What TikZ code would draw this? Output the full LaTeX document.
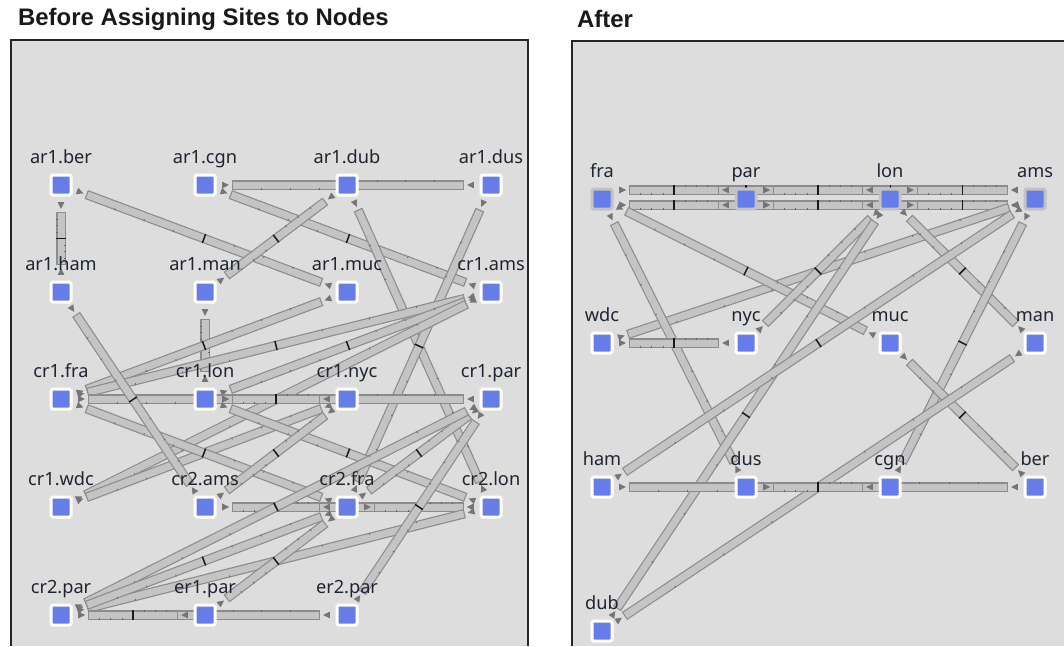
\documentclass[tikz,border=0pt]{standalone}
\usepackage{fontspec}
\setmainfont{Noto Sans}
\newfontfamily\titlefont{Liberation Sans}
\usetikzlibrary{decorations.markings}
\pgfdeclarelayer{panels}
\pgfdeclarelayer{linklayer}
\pgfsetlayers{panels,linklayer,main}
\definecolor{panelbg}{HTML}{DDDDDD}
\definecolor{barfill}{HTML}{C4C4C4}
\definecolor{baredge}{HTML}{8C8C8C}
\definecolor{tipgray}{HTML}{757575}
\definecolor{boxblue}{HTML}{667DE8}
\definecolor{hubrim}{HTML}{C2C2C2}
\definecolor{labelink}{HTML}{1E2430}
\newcommand\tickat[1]{{27.5pt+#1*(\pgfdecoratedpathlength-55pt)}}
\tikzset{
  panelbox/.style={fill=panelbg,draw=none},
  paneledge/.style={draw=black!85,line width=1.2pt},
  titletext/.style={anchor=base west,inner sep=0pt,font=\titlefont\bfseries\fontsize{23.9}{26}\selectfont,text=black!90},
  netbox/.style={rectangle,fill=boxblue,draw=white,line width=3pt,minimum size=20pt,inner sep=0pt,rounded corners=1.5pt},
  hubbox/.style={netbox,draw=hubrim},
  nettext/.style={anchor=base,inner sep=0pt,font=\fontsize{18.2}{20}\selectfont,text=labelink},
  barouter/.style={draw=baredge,line width=9.4pt,shorten >=27pt,shorten <=27pt},
  barinner/.style={draw=barfill,line width=7pt,shorten >=28.2pt,shorten <=28.2pt},
  barmarks/.style={decorate,decoration={markings,
    mark=at position 20.5pt with {\fill[tipgray] (3.4pt,0pt)--(-3.4pt,3.4pt)--(-3.4pt,-3.4pt)--cycle;},
    mark=at position \tickat{0.125} with {\draw[smalltick] (0pt,-4.7pt)--(0pt,-2.6pt);},
    mark=at position \tickat{0.25} with {\draw[smalltick] (0pt,-4.7pt)--(0pt,-2.6pt);},
    mark=at position \tickat{0.375} with {\draw[smalltick] (0pt,-4.7pt)--(0pt,-2.6pt);},
    mark=at position 0.5 with {\draw[black!90,line width=1.5pt] (0pt,-4.7pt)--(0pt,4.7pt);},
    mark=at position \tickat{0.625} with {\draw[smalltick] (0pt,4.7pt)--(0pt,2.6pt);},
    mark=at position \tickat{0.75} with {\draw[smalltick] (0pt,4.7pt)--(0pt,2.6pt);},
    mark=at position \tickat{0.875} with {\draw[smalltick] (0pt,4.7pt)--(0pt,2.6pt);},
    mark=at position -20.5pt with {\fill[tipgray] (-3.4pt,0pt)--(3.4pt,3.4pt)--(3.4pt,-3.4pt)--cycle;}
  }},
  smalltick/.style={draw=black!60,line width=.7pt}
}
\newcommand\lnk[3][]{%
  \begin{scope}[#1]
  \draw[barouter] (#2.center) -- (#3.center);
  \draw[barinner] (#2.center) -- (#3.center);
  \path[barmarks] (#2.center) -- (#3.center);
  \end{scope}
}
\newcommand\nd[5][netbox]{%
  \node[#1] (#2) at (#3,#4) {};
  \node[nettext] (#2-t) at (#3,#4-21.5) {#5};
}
\begin{document}
\begin{tikzpicture}[x=1pt,y=-1pt]
\useasboundingbox (0,0) rectangle (1064,646);
\begin{pgfonlayer}{panels}
  \fill[white] (0,0) rectangle (1064,646);
  \path[panelbox] (11,40) rectangle (528,646);
  \draw[paneledge] (11,646) -- (11,40) -- (528,40) -- (528,646);
  \path[panelbox] (572,41) rectangle (1064,646);
  \draw[paneledge] (572,646) -- (572,41) -- (1064,41);
\end{pgfonlayer}
\node[titletext] (t1) at (18,25) {Before Assigning Sites to Nodes};
\node[titletext] (t2) at (577,27) {After};
% left
\nd{aber}{61}{185}{ar1.ber}
\nd{acgn}{205}{185}{ar1.cgn}
\nd{adub}{347}{185}{ar1.dub}
\nd{adus}{491}{185}{ar1.dus}
\nd{aham}{61}{292}{ar1.ham}
\nd{aman}{205}{292}{ar1.man}
\nd{amuc}{347}{292}{ar1.muc}
\nd{cams}{491}{292}{cr1.ams}
\nd{cfra}{61}{399}{cr1.fra}
\nd{clon}{205}{399}{cr1.lon}
\nd{cnyc}{347}{399}{cr1.nyc}
\nd{cpar}{491}{399}{cr1.par}
\nd{cwdc}{61}{507}{cr1.wdc}
\nd{dams}{205}{507}{cr2.ams}
\nd{dfra}{347}{507}{cr2.fra}
\nd{dlon}{491}{507}{cr2.lon}
\nd{dpar}{61}{615}{cr2.par}
\nd{epa}{205}{615}{er1.par}
\nd{epb}{347}{615}{er2.par}
% right
\nd[hubbox]{fra}{602}{199}{fra}
\nd[hubbox]{par}{746}{199}{par}
\nd[hubbox]{lon}{890}{199}{lon}
\nd[hubbox]{ams}{1035}{199}{ams}
\nd{wdc}{602}{343}{wdc}
\nd{nyc}{746}{343}{nyc}
\nd{muc}{890}{343}{muc}
\nd{man}{1035}{343}{man}
\nd{ham}{602}{487}{ham}
\nd{dus}{746}{487}{dus}
\nd{cgn}{890}{487}{cgn}
\nd{ber}{1035}{487}{ber}
\nd{dub}{602}{631}{dub}
\begin{pgfonlayer}{linklayer}
  \lnk{aber}{aham}
  \lnk{aber}{amuc}
  \lnk{acgn}{adus}
  \lnk{acgn}{cams}
  \lnk{aman}{adub}
  \lnk{adub}{dlon}
  \lnk{dfra}{adus}
  \lnk{aman}{clon}
  \lnk{cfra}{amuc}
  \lnk{cfra}{cams}
  \lnk{clon}{cams}
  \lnk{cwdc}{cams}
  \lnk{cwdc}{cnyc}
  \lnk{cfra}{cnyc}
  \lnk{clon}{cpar}
  \lnk{clon}{cnyc}
  \lnk{cfra}{dfra}
  \lnk{clon}{dlon}
  \lnk{dams}{cnyc}
  \lnk{aham}{dams}
  \lnk{dfra}{cpar}
  \lnk{dams}{dlon}
  \lnk{dams}{dfra}
  \lnk{dfra}{dlon}
  \lnk{dpar}{dlon}
  \lnk{dpar}{cpar}
  \lnk{dpar}{dfra}
  \lnk{epa}{dfra}
  \lnk{epb}{cpar}
  \lnk{dpar}{epb}
  \lnk{dpar}{epa}
  % right
  \foreach \sh in {9pt,-6pt}{
    \lnk[transform canvas={yshift=\sh}]{fra}{lon}
    \lnk[transform canvas={yshift=\sh}]{par}{ams}
    \lnk[transform canvas={yshift=\sh}]{fra}{par}
    \lnk[transform canvas={yshift=\sh}]{par}{lon}
    \lnk[transform canvas={yshift=\sh}]{lon}{ams}
  }
  \lnk{wdc}{ams}
  \lnk{fra}{dus}
  \lnk{fra}{muc}
  \lnk{wdc}{nyc}
  \lnk{nyc}{lon}
  \lnk{dub}{lon}
  \lnk{lon}{man}
  \lnk{ham}{ams}
  \lnk{cgn}{ams}
  \lnk{muc}{ber}
  \lnk{dub}{man}
  \lnk{ham}{cgn}
  \lnk{dus}{ber}
  \lnk{dus}{cgn}
\end{pgfonlayer}
\end{tikzpicture}
\end{document}
